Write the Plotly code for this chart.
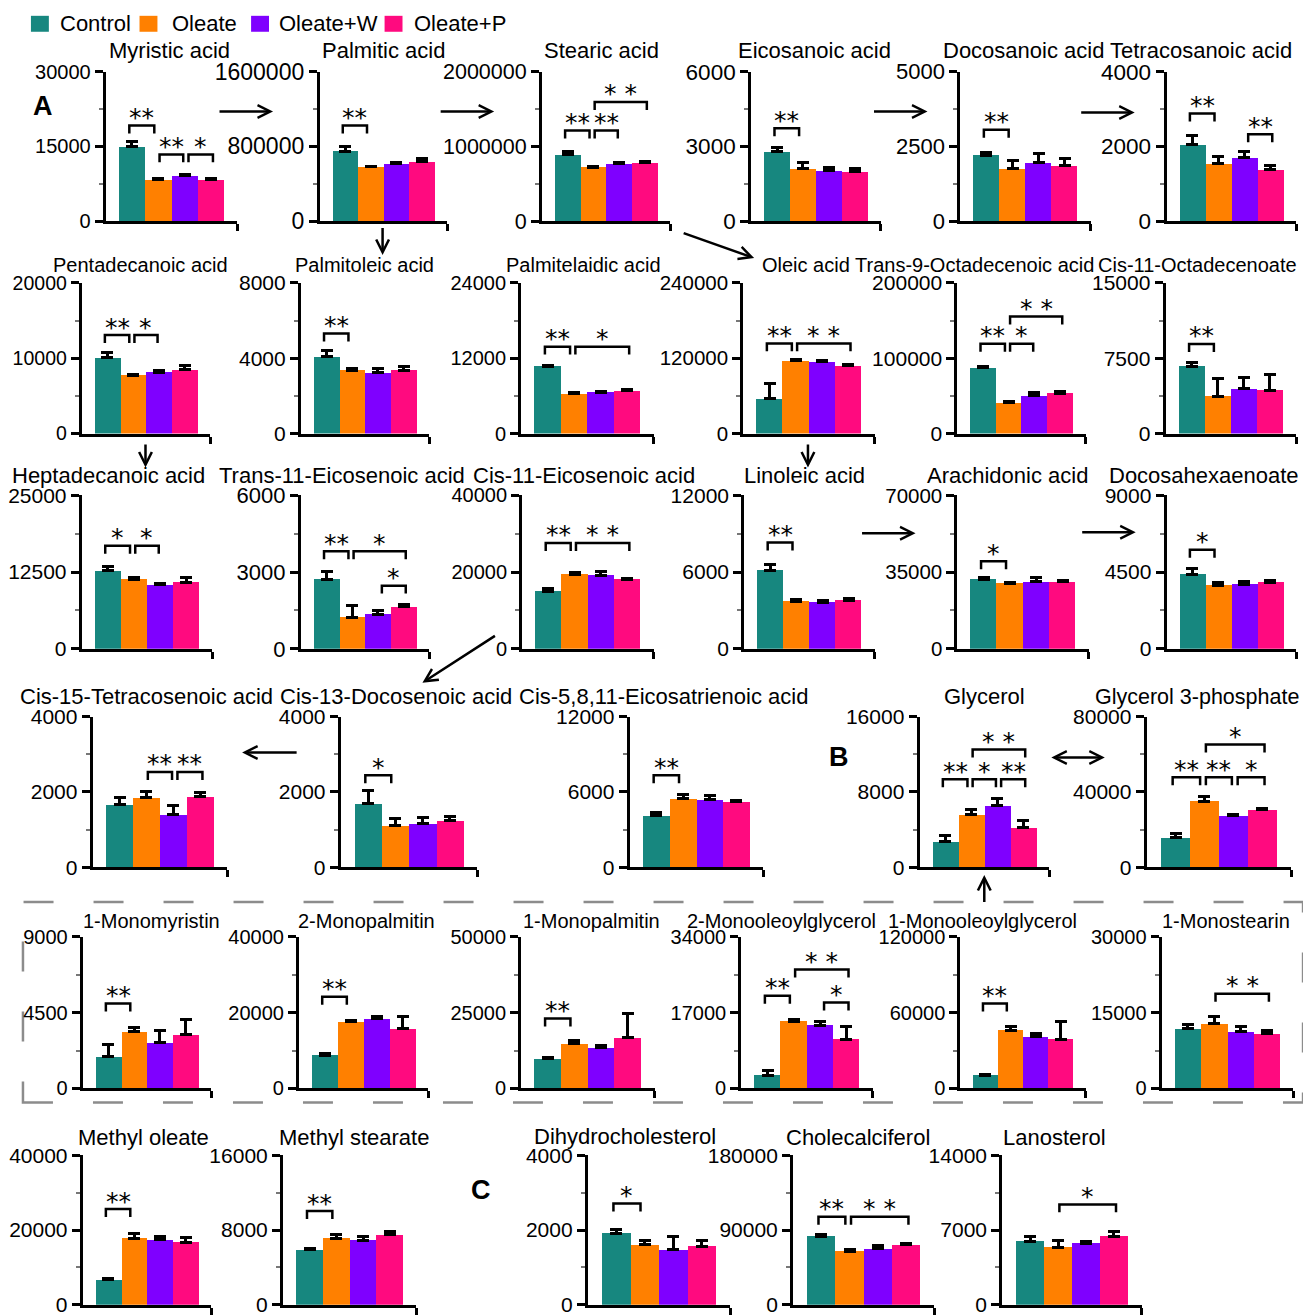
import plotly.graph_objects as go

W, H = 1311, 1315

# ---------------- data ----------------
groups = ["Control", "Oleate", "Oleate+W", "Oleate+P"]
group_colors = ["#17877f", "#ff8000", "#7f00ff", "#ff0a7f"]

metabolites = [
    "Myristic acid", "Palmitic acid", "Stearic acid", "Eicosanoic acid", "Docosanoic acid", "Tetracosanoic acid",
    "Pentadecanoic acid", "Palmitoleic acid", "Palmitelaidic acid", "Oleic acid", "Trans-9-Octadecenoic acid",
    "Cis-11-Octadecenoate",
    "Heptadecanoic acid", "Trans-11-Eicosenoic acid", "Cis-11-Eicosenoic acid", "Linoleic acid", "Arachidonic acid",
    "Docosahexaenoate",
    "Cis-15-Tetracosenoic acid", "Cis-13-Docosenoic acid", "Cis-5,8,11-Eicosatrienoic acid", "Glycerol",
    "Glycerol 3-phosphate",
    "1-Monomyristin", "2-Monopalmitin", "1-Monopalmitin", "2-Monooleoylglycerol", "1-Monooleoylglycerol",
    "1-Monostearin",
    "Methyl oleate", "Methyl stearate", "Dihydrocholesterol", "Cholecalciferol", "Lanosterol",
]

axis_max = [30000, 1600000, 2000000, 6000, 5000, 4000,
            20000, 8000, 24000, 240000, 200000, 15000,
            25000, 6000, 40000, 12000, 70000, 9000,
            4000, 4000, 12000, 16000, 80000,
            9000, 40000, 50000, 34000, 120000, 30000,
            40000, 16000, 4000, 180000, 14000]

control_mean = [14900, 750000, 886000, 2800, 2210, 2060,
                10100, 4070, 10690, 55300, 87400, 6680,
                12700, 2710, 14950, 6130, 31600, 4360,
                1660, 1690, 4080, 2730, 15700,
                1880, 8780, 9890, 2990, 10520, 11870,
                6670, 5870, 1910, 82100, 5920]
control_err = [1000, 45000, 44000, 160, 100, 245,
               670, 320, 150, 24000, 1500, 420,
               700, 330, 900, 500, 700, 350,
               200, 355, 250, 590, 2200,
               730, 400, 400, 1100, 600, 800,
               300, 150, 100, 2000, 500]
oleate_mean = [8400, 580000, 724000, 2100, 1750, 1540,
               7720, 3360, 6320, 116200, 40600, 3720,
               11280, 1220, 19490, 3680, 29800, 3720,
               1850, 1110, 5470, 5600, 35100,
               3360, 17580, 14830, 15080, 46100, 12860,
               17790, 7110, 1600, 64100, 5360]
oleate_err = [200, 10000, 10000, 240, 270, 185,
              150, 100, 150, 1500, 2000, 1800,
              300, 460, 500, 200, 600, 150,
              170, 190, 350, 520, 2300,
              250, 400, 900, 400, 3000, 1300,
              1300, 400, 120, 2000, 700]
oleate_w_mean = [9200, 615000, 769000, 2040, 1960, 1710,
                 8170, 3230, 6580, 114600, 50300, 4480,
                 10410, 1330, 19050, 3650, 30500, 3770,
                 1400, 1160, 5390, 6550, 27300,
                 2730, 18460, 13410, 14190, 40900, 11200,
                 17330, 6930, 1470, 67300, 5760]
oleate_w_err = [150, 12000, 10000, 100, 290, 160,
                150, 250, 150, 1500, 4000, 1100,
                200, 160, 1000, 150, 2200, 150,
                250, 170, 300, 700, 800,
                730, 600, 900, 900, 2500, 1000,
                1000, 400, 360, 4000, 200]
oleate_p_mean = [8300, 635000, 786000, 1990, 1860, 1370,
                 8490, 3360, 6850, 108400, 53700, 4310,
                 10860, 1640, 18030, 3810, 30500, 3910,
                 1880, 1240, 5200, 4200, 30400,
                 3200, 15820, 16710, 11050, 39000, 10880,
                 16720, 7470, 1560, 72100, 6380]
oleate_p_err = [300, 40000, 10000, 120, 235, 130,
                480, 180, 150, 1000, 2000, 1550,
                700, 80, 300, 150, 500, 100,
                100, 110, 150, 770, 1000,
                900, 3300, 8000, 2800, 13700, 600,
                1200, 400, 170, 2000, 500]

# significance brackets: (group_from, group_to, bracket level, label)
significance = [
    [(0, 1, 19200, "**"), (1, 2, 13400, "**"), (2, 3, 13400, "*")],
    [(0, 1, 1024000, "**")],
    [(0, 1, 1214000, "**"), (1, 2, 1214000, "**"), (1, 3, 1594000, "* *")],
    [(0, 1, 3730, "**")],
    [(0, 1, 3058, "**")],
    [(0, 1, 2880, "**"), (2, 3, 2326, "**")],
    [(0, 1, 13080, "**"), (1, 2, 13080, "*")],
    [(0, 1, 5320, "**")],
    [(0, 1, 13850, "**"), (1, 3, 13850, "*")],
    [(0, 1, 143700, "**"), (1, 3, 143700, "* *")],
    [(0, 1, 119200, "**"), (1, 2, 119200, "*"), (1, 3, 155500, "* *")],
    [(0, 1, 8920, "**")],
    [(0, 1, 16780, "*"), (1, 2, 16780, "*")],
    [(0, 1, 3810, "**"), (1, 3, 3810, "*"), (2, 3, 2470, "*")],
    [(0, 1, 27590, "**"), (1, 3, 27590, "* *")],
    [(0, 1, 8310, "**")],
    [(0, 1, 39900, "*")],
    [(0, 1, 5810, "*")],
    [(1, 2, 2530, "**"), (2, 3, 2530, "**")],
    [(0, 1, 2440, "*")],
    [(0, 1, 7330, "**")],
    [(0, 1, 9350, "**"), (1, 2, 9350, "*"), (2, 3, 9350, "**"), (1, 3, 12500, "* *")],
    [(0, 1, 47800, "**"), (1, 2, 47800, "**"), (2, 3, 47800, "*"), (1, 3, 65200, "*")],
    [(0, 1, 5040, "**")],
    [(0, 1, 24180, "**")],
    [(0, 1, 23070, "**")],
    [(0, 1, 20780, "**"), (2, 3, 19280, "*"), (1, 3, 26670, "* *")],
    [(0, 1, 67240, "**")],
    [(1, 3, 18730, "* *")],
    [(0, 1, 25600, "**")],
    [(0, 1, 10030, "**")],
    [(0, 1, 2710, "*")],
    [(0, 1, 106000, "**"), (1, 3, 106000, "* *")],
    [(1, 3, 9400, "*")],
]

# ---------------- layout geometry (target pixels in the picture) ----------------
axis_box_px = [
    (100, 232, 70, 220), (315, 443, 70, 220), (538, 667, 70, 220), (748, 878, 70, 220),
    (958, 1089, 70, 220), (1165, 1295, 70, 220),
    (76, 205, 282, 433), (296, 425, 282, 433), (517, 650, 282, 433), (740, 872, 282, 433),
    (955, 1084, 282, 433), (1164, 1295, 282, 433),
    (76, 207, 495, 649), (296, 425, 495, 649), (518, 650, 495, 649), (741, 872, 495, 649),
    (955, 1087, 495, 649), (1165, 1295, 495, 649),
    (87, 222, 717, 868), (336, 473, 717, 868), (626, 760, 717, 868), (917, 1047, 717, 868),
    (1145, 1290, 717, 868),
    (77, 206, 938, 1090), (294, 424, 938, 1090), (517, 651, 938, 1090), (738, 870, 938, 1090),
    (958, 1084, 938, 1090), (1160, 1292, 938, 1090),
    (77, 206, 1157, 1307), (278, 412, 1157, 1307), (584, 727, 1157, 1307), (790, 932, 1157, 1307),
    (1000, 1140, 1157, 1307),
]
title_px = [
    (164, 49), (379, 49), (598, 49), (812, 49), (1021, 49), (1200, 49),
    (135, 264), (360, 264), (580, 264), (803, 264), (972, 264), (1196, 264),
    (103, 475), (337, 475), (580, 475), (802, 475), (1005, 475), (1203, 475),
    (141, 697), (391, 697), (660, 697), (982, 697), (1196, 697),
    (146, 922), (362, 922), (588, 922), (778, 922), (980, 922), (1225, 922),
    (138, 1139), (349, 1139), (621, 1138), (855, 1139), (1052, 1139),
]
title_size = [22] * 6 + [20] * 6 + [22] * 6 + [22, 22, 22, 22, 21.5] + [20] * 6 + [22] * 5
tick_size = [20, 23, 21.5, 22.5, 22, 22.5,
             19.5, 21, 20, 20.5, 21, 21,
             21, 22, 20, 21, 20.5, 21,
             21, 21, 21, 21, 21,
             20, 20, 20, 20, 20, 20,
             21, 21, 21, 21, 21]

# bracket end offsets relative to bar centres (left end by start group, right end by end group)
bracket_left = {0: -0.1, 1: 0.05, 2: 0.15}
bracket_right = {1: -0.15, 2: -0.05, 3: 0.08}

# arrows: (tail_x, tail_y, head_x, head_y, double)
arrows_px = [
    (213, 110, 268, 110, False), (435, 110, 490, 110, False),
    (870, 110, 925, 110, False), (1078, 111, 1133, 111, False),
    (378, 226, 378, 254, False), (679, 232, 751, 257, False),
    (140, 443, 140, 467, False), (805, 443, 805, 467, False),
    (858, 533, 913, 533, False), (1079, 532, 1134, 532, False),
    (492, 636, 418, 683, False), (293, 753, 237, 753, False),
    (1048, 758, 1103, 758, True), (982, 904, 982, 876, False),
]

FONT = "Liberation Sans, Arial, sans-serif"
STAR_FONT = "DejaVu Sans, Liberation Sans, sans-serif"

# page placement correction (page offset / vertical fit observed in the rendering)
DX = 7.0
DY = 19.2
SY = 0.9833


def px_x(x):
    return (x - DX) / W


def px_y(y):
    return 1 - ((y - DY) / SY) / H


fig = go.Figure()
layout = {}
annotations = []
shapes = []

means = [control_mean, oleate_mean, oleate_w_mean, oleate_p_mean]
errs = [control_err, oleate_err, oleate_w_err, oleate_p_err]

for k, name in enumerate(metabolites):
    idx = k + 1
    xa = "x" if idx == 1 else f"x{idx}"
    ya = "y" if idx == 1 else f"y{idx}"
    xkey = "xaxis" if idx == 1 else f"xaxis{idx}"
    ykey = "yaxis" if idx == 1 else f"yaxis{idx}"
    x0, x1, ytop, yzero = axis_box_px[k]
    ymax = axis_max[k]

    fig.add_trace(go.Bar(
        x=[0, 1, 2, 3],
        y=[m[k] for m in means],
        width=1,
        marker=dict(color=group_colors, line=dict(width=0)),
        error_y=dict(type="data", symmetric=False, array=[e[k] for e in errs],
                     arrayminus=[0, 0, 0, 0], color="black", thickness=3, width=6),
        xaxis=xa, yaxis=ya, showlegend=False,
        hovertext=groups, name=name,
    ))

    layout[xkey] = dict(
        domain=[px_x(x0), px_x(x1)], range=[-1, 4], anchor=ya,
        showline=True, linecolor="black", linewidth=3, mirror=False,
        tickmode="array", tickvals=[4], ticks="outside", ticklen=7, tickwidth=3,
        tickcolor="black", showticklabels=False, showgrid=False, zeroline=False,
        fixedrange=True,
    )
    layout[ykey] = dict(
        domain=[px_y(yzero), px_y(ytop)], range=[0, ymax], anchor=xa,
        showline=True, linecolor="black", linewidth=3,
        tickmode="array", tickvals=[0, ymax / 2, ymax],
        ticktext=["0", str(int(ymax / 2)), str(int(ymax))],
        ticks="outside", ticklen=8, tickwidth=2.5, tickcolor="black",
        tickfont=dict(size=tick_size[k], color="black", family=FONT),
        minor=dict(tickmode="array", tickvals=[ymax / 4, 3 * ymax / 4], ticks="outside",
                   ticklen=4, tickwidth=2, tickcolor="#777777"),
        showgrid=False, zeroline=False, fixedrange=True,
    )

    # title
    tx, ty = title_px[k]
    annotations.append(dict(
        x=px_x(tx), y=px_y(ty), xref="paper", yref="paper", text=name,
        showarrow=False, xanchor="center", yanchor="middle",
        font=dict(size=title_size[k], color="black", family=FONT),
    ))

    # significance brackets
    leg = 8.0 / (yzero - ytop) * ymax
    for (g0, g1, lvl, lab) in significance[k]:
        bx0 = g0 + bracket_left[g0]
        bx1 = g1 + bracket_right[g1]
        shapes.append(dict(
            type="path", xref=xa, yref=ya,
            path=f"M {bx0},{lvl - leg} L {bx0},{lvl} L {bx1},{lvl} L {bx1},{lvl - leg}",
            line=dict(color="black", width=2.5),
        ))
        annotations.append(dict(
            x=(bx0 + bx1) / 2, y=lvl, xref=xa, yref=ya, text=lab, showarrow=False,
            xanchor="center", yanchor="bottom", yshift=-8.5,
            font=dict(size=25, color="black", family=STAR_FONT),
        ))

# legend (manual)
legend_px = [(25, 52), (134, 165), (246, 272), (380, 408)]
for (sx, tx), g, c in zip(legend_px, groups, group_colors):
    shapes.append(dict(type="rect", xref="paper", yref="paper",
                       x0=px_x(sx), x1=px_x(sx + 18), y0=px_y(30), y1=px_y(14),
                       fillcolor=c, line=dict(width=0)))
    annotations.append(dict(x=px_x(tx), y=px_y(22), xref="paper", yref="paper", text=g,
                            showarrow=False, xanchor="left", yanchor="middle",
                            font=dict(size=22, color="black", family=FONT)))

# panel letters
for letter, lx, ly in [("A", 37, 104), ("B", 836, 758), ("C", 477, 1192)]:
    annotations.append(dict(x=px_x(lx), y=px_y(ly), xref="paper", yref="paper",
                            text=f"<b>{letter}</b>", showarrow=False,
                            xanchor="center", yanchor="middle",
                            font=dict(size=27, color="black", family=FONT)))

# pathway arrows
for (tx, ty, hx, hy, dbl) in arrows_px:
    a = dict(x=px_x(hx), y=px_y(hy), xref="paper", yref="paper", text="",
             showarrow=True, ax=tx - hx, ay=(ty - hy) / SY, axref="pixel", ayref="pixel",
             arrowhead=5, arrowsize=1, arrowwidth=2.5, arrowcolor="black", standoff=0)
    if dbl:
        a.update(arrowside="end+start", startarrowhead=5, startarrowsize=1, startstandoff=0)
    annotations.append(a)

# dashed box around monoacylglycerols
shapes.append(dict(type="rect", xref="paper", yref="paper",
                   x0=px_x(17), x1=px_x(1302), y0=px_y(1104), y1=px_y(903),
                   line=dict(color="#8c8c8c", width=2.5, dash="30px,40px"),
                   fillcolor="rgba(0,0,0,0)", layer="below"))

layout.update(dict(
    width=W, height=H, autosize=False,
    margin=dict(l=0, r=0, t=0, b=0),
    paper_bgcolor="white", plot_bgcolor="white",
    font=dict(family=FONT, color="black"),
    showlegend=False, bargap=0,
    annotations=annotations, shapes=shapes,
))
fig.update_layout(**layout)

fig.write_html("out.html")
